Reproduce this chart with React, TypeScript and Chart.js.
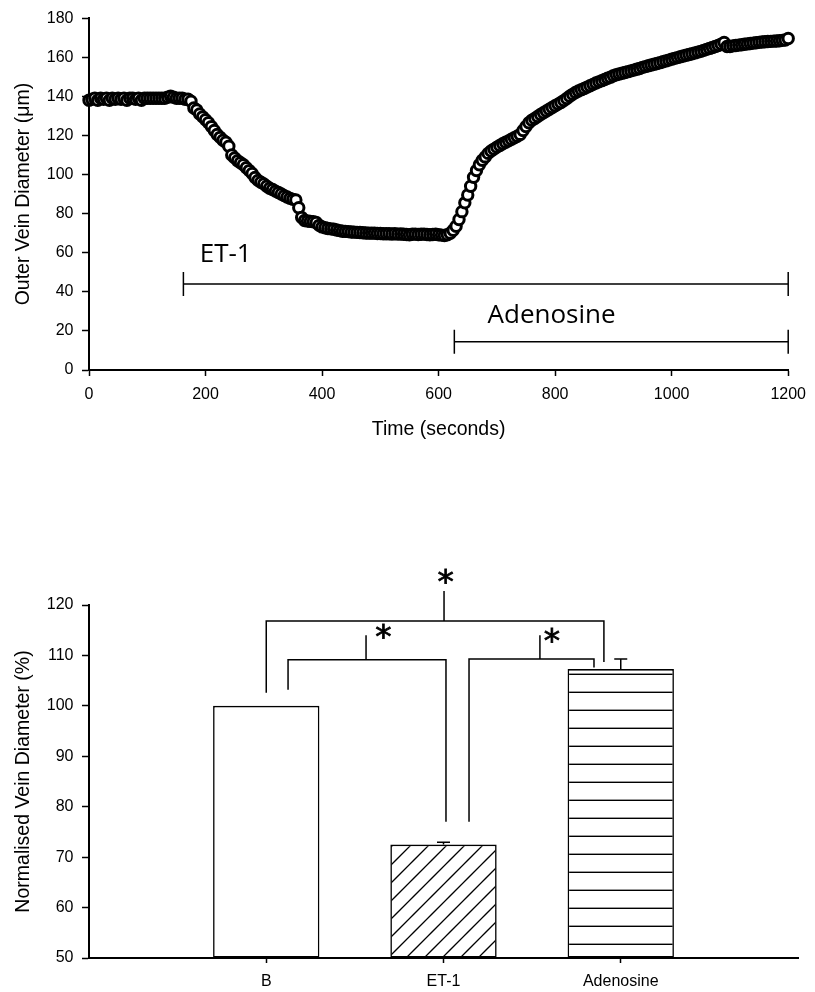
import React, { useEffect, useRef } from 'react';
import { Chart, registerables } from 'chart.js';

Chart.register(...registerables);

const FONT = '"Liberation Sans", Arial, Helvetica, sans-serif';
const LABEL_FONT = '"Open Sans", "Noto Sans", sans-serif';
const STAR_FONT = '"DejaVu Sans", sans-serif';

// ---------- Top panel: outer vein diameter over time ----------
const timeSeconds = [
  0, 5, 10, 15, 20, 25, 30, 35, 40, 45,
  50, 55, 60, 65, 70, 75, 80, 85, 90, 95,
  100, 105, 110, 115, 120, 125, 130, 135, 140, 145,
  150, 155, 160, 165, 170, 175, 180, 185, 190, 195,
  200, 205, 210, 215, 220, 225, 230, 235, 240, 245,
  250, 255, 260, 265, 270, 275, 280, 285, 290, 295,
  300, 305, 310, 315, 320, 325, 330, 335, 340, 345,
  350, 355, 360, 365, 370, 375, 380, 385, 390, 395,
  400, 405, 410, 415, 420, 425, 430, 435, 440, 445,
  450, 455, 460, 465, 470, 475, 480, 485, 490, 495,
  500, 505, 510, 515, 520, 525, 530, 535, 540, 545,
  550, 555, 560, 565, 570, 575, 580, 585, 590, 595,
  600, 605, 610, 615, 620, 625, 630, 635, 640, 645,
  650, 655, 660, 665, 670, 675, 680, 685, 690, 695,
  700, 705, 710, 715, 720, 725, 730, 735, 740, 745,
  750, 755, 760, 765, 770, 775, 780, 785, 790, 795,
  800, 805, 810, 815, 820, 825, 830, 835, 840, 845,
  850, 855, 860, 865, 870, 875, 880, 885, 890, 895,
  900, 905, 910, 915, 920, 925, 930, 935, 940, 945,
  950, 955, 960, 965, 970, 975, 980, 985, 990, 995,
  1000, 1005, 1010, 1015, 1020, 1025, 1030, 1035, 1040, 1045,
  1050, 1055, 1060, 1065, 1070, 1075, 1080, 1085, 1090, 1095,
  1100, 1105, 1110, 1115, 1120, 1125, 1130, 1135, 1140, 1145,
  1150, 1155, 1160, 1165, 1170, 1175, 1180, 1185, 1190, 1195,
  1200,
];

const outerDiameter = [
  138, 138.5, 139, 138, 139, 138.5, 139, 138, 139, 138.5,
  139, 138.5, 139, 138, 139, 139, 138.5, 139, 138, 139,
  139, 139, 139, 139, 139, 139, 139, 139.5, 140, 139.5,
  139, 139, 139, 138.5, 138.5, 137.5, 134, 133, 131, 129.5,
  128, 126.5, 124.5, 122.5, 120.5, 119, 117.5, 116.5, 114.5, 110,
  108.5, 107, 106, 105, 103.5, 102, 100.5, 98.5, 97, 96,
  95.2, 94, 93, 92.3, 91.5, 90.8, 90, 89.2, 88.5, 87.8,
  87.3, 87, 83, 78, 76.5, 76.2, 76, 75.8, 75.5, 74,
  73.2, 72.8, 72.4, 72.2, 72, 71.6, 71.3, 71, 70.9, 70.8,
  70.6, 70.5, 70.4, 70.3, 70.2, 70.1, 70, 70, 70, 69.8,
  69.8, 69.7, 69.7, 69.7, 69.6, 69.7, 69.5, 69.6, 69.4, 69.3,
  69.2, 69.4, 69.5, 69.3, 69.4, 69.5, 69.3, 69.2, 69.3, 69.4,
  69.2, 69, 68.8, 69.2, 70, 71.5, 73.5, 77, 81, 85.5,
  89.5, 94, 98.6, 102, 105, 107.3, 109, 110.8, 112, 113,
  114, 114.8, 115.7, 116.5, 117.2, 118, 118.8, 119.6, 120.5, 122.5,
  124.5, 126.5, 127.8, 128.7, 129.7, 130.7, 131.6, 132.5, 133.4, 134.3,
  135.2, 136, 136.8, 137.8, 138.9, 140, 141, 142, 142.7, 143.4,
  144, 144.7, 145.4, 146.1, 146.8, 147.4, 148, 148.6, 149.2, 149.8,
  150.5, 151, 151.4, 151.8, 152.2, 152.6, 153, 153.4, 153.8, 154.2,
  154.8, 155.2, 155.6, 156, 156.4, 156.8, 157.2, 157.7, 158.1, 158.5,
  159, 159.4, 159.8, 160.2, 160.6, 161, 161.4, 161.8, 162.2, 162.6,
  163, 163.5, 164, 164.5, 165, 165.5, 166, 166.7, 167.5, 165.5,
  165.5, 165.8, 166, 166.2, 166.4, 166.6, 166.8, 167, 167.2, 167.4,
  167.6, 167.8, 167.9, 168, 168.1, 168.2, 168.3, 168.4, 168.6, 168.8,
  169.6,
];

const timeTicks = [0, 200, 400, 600, 800, 1000, 1200];
const diameterTicks = [0, 20, 40, 60, 80, 100, 120, 140, 160, 180];

const treatmentNames = ['ET-1', 'Adenosine'];
const treatmentStart = [162, 627];
const treatmentEnd = [1200, 1200];

// annotation placement (data units of the top chart)
const treatmentLayout = [
  { lineY: 44, labelX: 190, labelBaseline: 55.2 },
  { lineY: 14.5, labelX: 684, labelBaseline: 24.1 },
];

// ---------- Bottom panel: normalised vein diameter ----------
const barCategories = ['B', 'ET-1', 'Adenosine'];
const barPositions = [1, 2, 3];
const barValues = [100, 72.5, 107.3];
const barErrors = [0, 0.45, 2.0];
const normTicks = [50, 60, 70, 80, 90, 100, 110, 120];

// significance brackets (data units of the bottom chart)
const brackets = [
  { x1: 1.0, y1: 102.6, x2: 2.905, y2: 108.7, y: 116.85, stemX: 2.003, stemTop: 122.8, starX: 2.011, starY: 125.6 },
  { x1: 1.123, y1: 103.2, x2: 2.014, y2: 77.0, y: 109.15, stemX: 1.563, stemTop: 114.0, starX: 1.66, starY: 114.7 },
  { x1: 2.144, y1: 77.0, x2: 2.849, y2: 107.6, y: 109.3, stemX: 2.544, stemTop: 114.0, starX: 2.611, starY: 113.9 },
];

function makeHatch(): CanvasPattern | string {
  const c = document.createElement('canvas');
  c.width = 18;
  c.height = 18;
  const g = c.getContext('2d');
  if (!g) return '#fff';
  g.fillStyle = '#fff';
  g.fillRect(0, 0, 18, 18);
  g.strokeStyle = '#000';
  g.lineWidth = 1.3;
  g.beginPath();
  g.moveTo(-2, 16);
  g.lineTo(16, -2);
  g.moveTo(12, 20);
  g.lineTo(20, 12);
  g.stroke();
  return g.createPattern(c, 'repeat') || '#fff';
}

function makeHLines(): CanvasPattern | string {
  const c = document.createElement('canvas');
  c.width = 6;
  c.height = 18;
  const g = c.getContext('2d');
  if (!g) return '#fff';
  g.fillStyle = '#fff';
  g.fillRect(0, 0, 6, 18);
  g.fillStyle = '#000';
  g.fillRect(0, 7.6, 6, 1.4);
  return g.createPattern(c, 'repeat') || '#fff';
}

function drawStar(ctx: CanvasRenderingContext2D, cx: number, cy: number, targetW: number) {
  ctx.save();
  ctx.font = `100px ${STAR_FONT}`;
  const m0 = ctx.measureText('*');
  const w0 = m0.actualBoundingBoxLeft + m0.actualBoundingBoxRight;
  const size = (100 * targetW) / (w0 || 40);
  ctx.font = `${size}px ${STAR_FONT}`;
  const m = ctx.measureText('*');
  ctx.textAlign = 'left';
  ctx.textBaseline = 'alphabetic';
  const gx = cx - (m.actualBoundingBoxRight - m.actualBoundingBoxLeft) / 2;
  const gy = cy - (m.actualBoundingBoxDescent - m.actualBoundingBoxAscent) / 2;
  ctx.fillStyle = '#000';
  ctx.strokeStyle = '#000';
  ctx.lineWidth = 0.8;
  ctx.fillText('*', gx, gy);
  ctx.strokeText('*', gx, gy);
  ctx.restore();
}

const treatmentPlugin = {
  id: 'treatments',
  afterDatasetsDraw(chart: any) {
    const { ctx } = chart;
    const xs = chart.scales.x;
    const ys = chart.scales.y;
    ctx.save();
    ctx.strokeStyle = '#000';
    ctx.lineWidth = 1.5;
    treatmentNames.forEach((name, i) => {
      const lay = treatmentLayout[i];
      const x1 = xs.getPixelForValue(treatmentStart[i]);
      const x2 = xs.getPixelForValue(treatmentEnd[i]);
      const y = ys.getPixelForValue(lay.lineY);
      ctx.beginPath();
      ctx.moveTo(x1, y);
      ctx.lineTo(x2, y);
      ctx.moveTo(x1, y - 12);
      ctx.lineTo(x1, y + 12);
      ctx.moveTo(x2, y - 12);
      ctx.lineTo(x2, y + 12);
      ctx.stroke();
      ctx.fillStyle = '#000';
      ctx.font = `26px ${LABEL_FONT}`;
      ctx.textAlign = 'left';
      ctx.textBaseline = 'alphabetic';
      ctx.fillText(name, xs.getPixelForValue(lay.labelX), ys.getPixelForValue(lay.labelBaseline));
    });
    ctx.restore();
  },
};

const barExtrasPlugin = {
  id: 'barExtras',
  afterDatasetsDraw(chart: any) {
    const { ctx } = chart;
    const xs = chart.scales.x;
    const ys = chart.scales.y;
    ctx.save();
    ctx.strokeStyle = '#000';
    ctx.lineWidth = 1.5;
    barPositions.forEach((p, i) => {
      if (!barErrors[i]) return;
      const x = xs.getPixelForValue(p);
      const y0 = ys.getPixelForValue(barValues[i]);
      const y1 = ys.getPixelForValue(barValues[i] + barErrors[i]);
      ctx.beginPath();
      ctx.moveTo(x, y0);
      ctx.lineTo(x, y1);
      ctx.moveTo(x - 6.5, y1);
      ctx.lineTo(x + 6.5, y1);
      ctx.stroke();
    });
    brackets.forEach((b) => {
      const xl = xs.getPixelForValue(b.x1);
      const xr = xs.getPixelForValue(b.x2);
      const y = ys.getPixelForValue(b.y);
      ctx.beginPath();
      ctx.moveTo(xl, ys.getPixelForValue(b.y1));
      ctx.lineTo(xl, y);
      ctx.lineTo(xr, y);
      ctx.lineTo(xr, ys.getPixelForValue(b.y2));
      const sx = xs.getPixelForValue(b.stemX);
      ctx.moveTo(sx, y);
      ctx.lineTo(sx, ys.getPixelForValue(b.stemTop));
      ctx.stroke();
      drawStar(ctx, xs.getPixelForValue(b.starX), ys.getPixelForValue(b.starY), 15);
    });
    ctx.restore();
  },
};

const tickFont = { family: FONT, size: 16 };
const titleFont = { family: FONT, size: 19.5 };

function axisGrid(len: number) {
  return { drawOnChartArea: false, drawTicks: true, offset: false, tickLength: len, tickWidth: 1.5, tickColor: '#000' };
}
const axisBorder = { display: true, color: '#000', width: 2 };

export default function App() {
  const topRef = useRef<HTMLCanvasElement>(null);
  const botRef = useRef<HTMLCanvasElement>(null);

  useEffect(() => {
    if (!topRef.current || !botRef.current) return;

    const top = new Chart(topRef.current, {
      type: 'scatter',
      data: {
        datasets: [
          {
            data: timeSeconds.map((t, i) => ({ x: t, y: outerDiameter[i] })),
            pointRadius: 5.2,
            pointBorderWidth: 3,
            pointBackgroundColor: '#fff',
            pointBorderColor: '#000',
            clip: false as any,
          },
        ],
      },
      options: {
        responsive: false,
        animation: false,
        devicePixelRatio: 1,
        events: [],
        layout: { padding: { left: 0, right: 18, top: 17, bottom: 0 } },
        plugins: { legend: { display: false }, tooltip: { enabled: false } },
        scales: {
          x: {
            type: 'linear',
            min: timeTicks[0],
            max: timeTicks[timeTicks.length - 1],
            afterFit: (s: any) => { s.height = 80; },
            afterBuildTicks: (s: any) => { s.ticks = timeTicks.map((v) => ({ value: v })); },
            ticks: { font: tickFont, color: '#000', padding: 9, maxRotation: 0, callback: (v: any) => String(v) },
            grid: axisGrid(6),
            border: axisBorder,
            title: { display: true, text: 'Time (seconds)', font: titleFont, color: '#000', padding: { top: 0, bottom: 9 } },
          },
          y: {
            type: 'linear',
            min: diameterTicks[0],
            max: diameterTicks[diameterTicks.length - 1],
            afterFit: (s: any) => { s.width = 89; },
            afterBuildTicks: (s: any) => { s.ticks = diameterTicks.map((v) => ({ value: v })); },
            ticks: { font: tickFont, color: '#000', padding: 8.5, callback: (v: any) => String(v) },
            grid: axisGrid(7),
            border: axisBorder,
            title: { display: true, text: 'Outer Vein Diameter (μm)', font: titleFont, color: '#000', padding: { top: 12, bottom: 0 } },
          },
        },
      } as any,
      plugins: [treatmentPlugin],
    });

    const hatch = makeHatch();
    const hlines = makeHLines();

    const bottom = new Chart(botRef.current, {
      type: 'bar',
      data: {
        datasets: [
          {
            data: barPositions.map((p, i) => ({ x: p, y: barValues[i] })),
            base: normTicks[0],
            backgroundColor: ['#fff', hatch, hlines] as any,
            borderColor: '#000',
            borderWidth: 1.6,
            borderSkipped: false,
            categoryPercentage: 1,
            barPercentage: 0.6,
          } as any,
        ],
      },
      options: {
        responsive: false,
        animation: false,
        devicePixelRatio: 1,
        events: [],
        layout: { padding: { left: 0, right: 17, top: 65, bottom: 0 } },
        plugins: { legend: { display: false }, tooltip: { enabled: false } },
        scales: {
          x: {
            type: 'linear',
            min: 0,
            max: 4,
            offset: false,
            afterFit: (s: any) => { s.height = 34; },
            afterBuildTicks: (s: any) => { s.ticks = barPositions.map((v) => ({ value: v })); },
            ticks: {
              font: tickFont,
              color: '#000',
              padding: 9.4,
              maxRotation: 0,
              callback: (_v: any, idx: number) => barCategories[idx],
            },
            grid: axisGrid(5),
            border: axisBorder,
          },
          y: {
            type: 'linear',
            min: normTicks[0],
            max: normTicks[normTicks.length - 1],
            afterFit: (s: any) => { s.width = 89; },
            afterBuildTicks: (s: any) => { s.ticks = normTicks.map((v) => ({ value: v })); },
            ticks: { font: tickFont, color: '#000', padding: 8.5 },
            grid: axisGrid(7),
            border: axisBorder,
            title: { display: true, text: 'Normalised Vein Diameter (%)', font: titleFont, color: '#000', padding: { top: 12, bottom: 0 } },
          },
        },
      } as any,
      plugins: [barExtrasPlugin],
    });

    return () => {
      top.destroy();
      bottom.destroy();
    };
  }, []);

  return (
    <div style={{ position: 'absolute', left: 0, top: 0, width: 815, height: 992, background: '#fff' }}>
      <canvas ref={topRef} width={815} height={450} style={{ position: 'absolute', left: 0, top: 0, display: 'block' }} />
      <canvas ref={botRef} width={815} height={452} style={{ position: 'absolute', left: 0, top: 540, display: 'block' }} />
    </div>
  );
}
